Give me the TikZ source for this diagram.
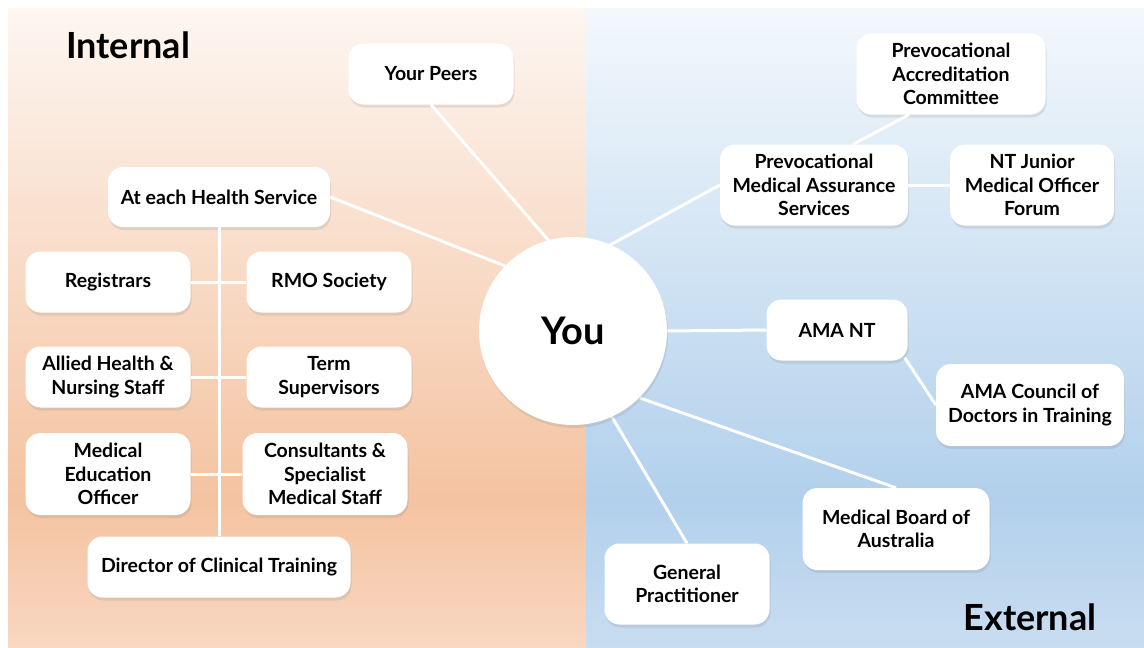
\documentclass[tikz,border=0pt]{standalone}
\usepackage{fontspec}
\setmainfont{Lato}
\usepackage{tikz}
\usetikzlibrary{shadows, calc}

\definecolor{peachtop}{HTML}{FDF6F1}
\definecolor{peachmid}{HTML}{F4C3A1}
\definecolor{peachbot}{HTML}{F9D7C1}
\definecolor{bluetop}{HTML}{F3F8FC}
\definecolor{bluemid}{HTML}{B2D0EC}
\definecolor{bluebot}{HTML}{C9DDF1}

\tikzset{
  card/.style={fill=white, rounded corners=15pt, align=center, inner sep=2pt,
    font=\fontsize{19.5}{23.5}\selectfont\bfseries,
    drop shadow={shadow xshift=1pt, shadow yshift=-3pt, opacity=0.18}},
  heading/.style={font=\fontsize{36}{40}\selectfont\bfseries},
  link/.style={draw=white, line width=3pt}
}

\begin{document}
\begin{tikzpicture}[x=1pt, y=-1pt]
    \useasboundingbox (0,0) rectangle (1144,648);
    \fill[white] (0,0) rectangle (1144,648);

    % draw shaded halves
    \shade[top color=peachtop, bottom color=peachmid] (8,8) rectangle (586,500);
    \shade[top color=peachmid, bottom color=peachbot] (8,499.5) rectangle (586,648);
    \shade[top color=bluetop, bottom color=bluemid] (586,8) rectangle (1144,500);
    \shade[top color=bluemid, bottom color=bluebot] (586,499.5) rectangle (1144,648);

    % draw headings
    \node[heading] (internal) at (128,45) {Internal};
    \node[heading] (external) at (1030,617) {External};

    % draw internal boxes
    \node[card, minimum width=165, minimum height=61] (peers) at (431,74) {Your Peers};
    \node[card, minimum width=222, minimum height=60] (health) at (219,197) {At each Health Service};
    \node[card, minimum width=165, minimum height=61] (registrars) at (108,282) {Registrars};
    \node[card, minimum width=165, minimum height=61] (rmo) at (329,282) {RMO Society};
    \node[card, minimum width=165, minimum height=61] (allied) at (108,377) {Allied Health \&\\Nursing Staff};
    \node[card, minimum width=165, minimum height=61] (term) at (329,377) {Term\\Supervisors};
    \node[card, minimum width=165, minimum height=82] (meo) at (108,474) {Medical\\Education\\Officer};
    \node[card, minimum width=165, minimum height=82] (consult) at (325,474) {Consultants \&\\Specialist\\Medical Staff};
    \node[card, minimum width=263, minimum height=61] (dct) at (219,567) {Director of Clinical Training};

    % draw external boxes
    \node[card, minimum width=189, minimum height=81] (pac) at (951,74) {Prevocational\\Accreditation\\Committee};
    \node[card, minimum width=188, minimum height=81] (pmas) at (814,185) {Prevocational\\Medical Assurance\\Services};
    \node[card, minimum width=164, minimum height=81] (ntjmo) at (1032,185) {NT Junior\\Medical Officer\\Forum};
    \node[card, minimum width=141, minimum height=61] (amant) at (837,330) {AMA NT};
    \node[card, minimum width=188, minimum height=82] (amacdt) at (1030,405) {AMA Council of\\Doctors in Training};
    \node[card, minimum width=187, minimum height=82] (mba) at (896,529) {Medical Board of\\Australia};
    \node[card, minimum width=165, minimum height=81] (gp) at (687,584) {General\\Practitioner};

    % draw internal tree
    \draw[link] (health.south) -- (dct.north);
    \draw[link] (registrars.east) -- (rmo.west);
    \draw[link] (allied.east) -- (term.west);
    \draw[link] (meo.east) -- (consult.west);

    % draw spokes, then the circle on top
    \coordinate (c) at (573,331);
    \draw[link] (peers.south) -- ($(c)+(-24,-90)$);
    \draw[link] (health.east) -- ($(c)+(-68,-65)$);
    \draw[link] (pmas.west) -- ($(c)+(37,-86)$);
    \draw[link] ($(pac.south)+(-42,0)$) -- ($(pmas.north)+(39,0)$);
    \draw[link] (pmas.east) -- (ntjmo.west);
    \draw[link] ($(c)+(94,0)$) -- (amant.west);
    \draw[link] ($(amant.south east)+(-3,-3)$) -- (amacdt.west);
    \draw[link] ($(c)+(67,67)$) -- (mba.north);
    \draw[link] ($(c)+(39,86)$) -- (gp.north);

    \node[circle, fill=white, minimum size=188, inner sep=0pt,
      font=\fontsize{38}{42}\selectfont\bfseries,
      drop shadow={shadow xshift=1pt, shadow yshift=-3pt, opacity=0.18}] (you) at (c) {You};
\end{tikzpicture}
\end{document}
